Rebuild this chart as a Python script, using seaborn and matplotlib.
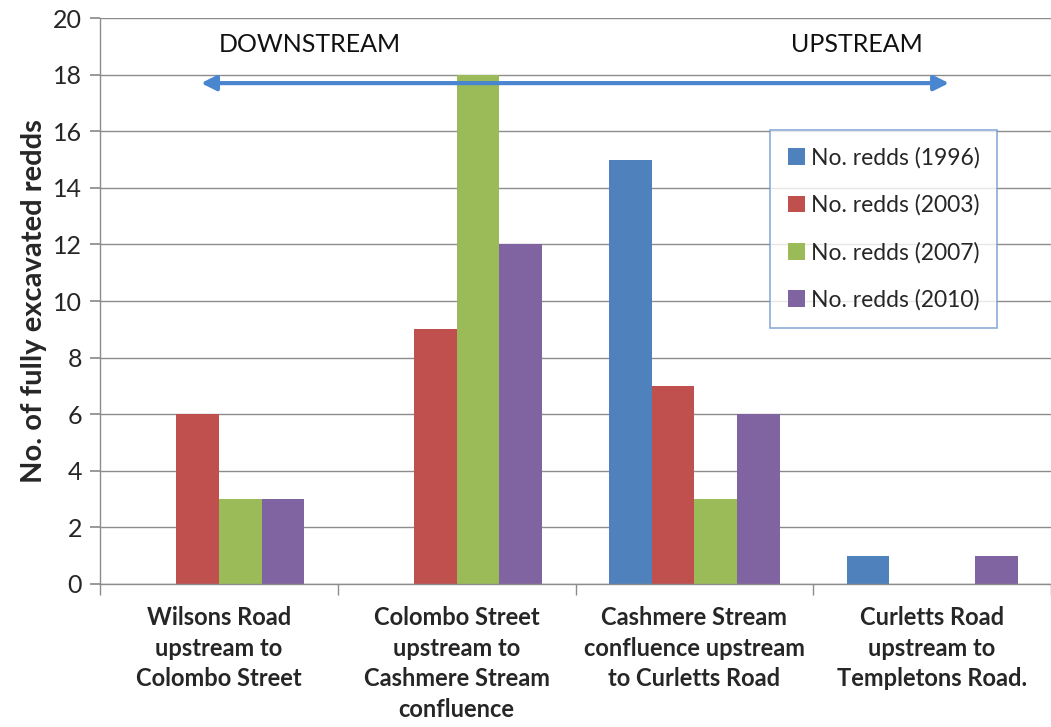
import matplotlib
matplotlib.use("Agg")
import matplotlib.pyplot as plt
import seaborn as sns
import pandas as pd

categories = ["Wilsons Road\nupstream to\nColombo Street",
              "Colombo Street\nupstream to\nCashmere Stream\nconfluence",
              "Cashmere Stream\nconfluence upstream\nto Curletts Road",
              "Curletts Road\nupstream to\nTempletons Road."]
series = ["No. redds (1996)", "No. redds (2003)", "No. redds (2007)", "No. redds (2010)"]
v1996 = [0, 0, 15, 1]
v2003 = [6, 9, 7, 0]
v2007 = [3, 18, 3, 0]
v2010 = [3, 12, 6, 1]
colors = ["#4F81BD", "#C0504D", "#9BBB59", "#8064A2"]
yticks = [0, 2, 4, 6, 8, 10, 12, 14, 16, 18, 20]

rows = []
for s, vals in zip(series, [v1996, v2003, v2007, v2010]):
    for c, v in zip(categories, vals):
        rows.append({"cat": c, "series": s, "value": v})
df = pd.DataFrame(rows)

sns.set_theme(style="white")
plt.rcParams["font.family"] = ["Lato", "DejaVu Sans"]

fig = plt.figure(figsize=(10.51, 7.27), dpi=100)
ax = fig.add_axes([100 / 1051, 0.1967, 951 / 1051, 0.7785])

sns.barplot(data=df, x="cat", y="value", hue="series", palette=colors,
            width=0.72, saturation=1, ax=ax, legend=True)
for p in ax.patches:
    p.set_edgecolor("none")

ax.set_xlim(-0.5, -0.5 + 951 / 239)
ax.set_ylim(0, 20)
ax.set_yticks(yticks)
ax.set_yticklabels([str(t) for t in yticks], fontsize=18)
ax.yaxis.grid(True, color="#8C8C8C", linewidth=1.0)
ax.set_axisbelow(True)

ax.set_xticks(range(len(categories)))
ax.set_xticklabels(categories, fontsize=17, fontweight="bold", linespacing=1.4)
ax.set_xticks([i - 0.5 for i in range(len(categories) + 1)], minor=True)
ax.tick_params(axis="x", which="major", length=0, pad=16)
ax.tick_params(axis="x", which="minor", length=8, color="#8C8C8C", direction="out", bottom=True)
ax.tick_params(axis="y", length=7, color="#8C8C8C", direction="out", left=True, pad=6)

for side in ["top", "right"]:
    ax.spines[side].set_visible(False)
for side in ["left", "bottom"]:
    ax.spines[side].set_color("#8C8C8C")
    ax.spines[side].set_linewidth(1.0)

ax.set_xlabel("")
ax.set_ylabel("No. of fully excavated redds", fontsize=21, fontweight="bold", labelpad=4)

leg = ax.legend(loc="upper left", bbox_to_anchor=(0.705, 0.802), borderaxespad=0,
                fontsize=16.5, frameon=True, fancybox=False, labelspacing=1.12,
                handlelength=0.75, handleheight=0.75, handletextpad=0.25,
                borderpad=0.75)
leg.get_frame().set_edgecolor("#6E9AD0")
leg.get_frame().set_linewidth(1.2)

ax.annotate("", xy=(-0.075, 17.7), xytext=(3.071, 17.7),
            arrowprops=dict(arrowstyle="<|-|>", color="#4A86D0", lw=3,
                            mutation_scale=22, shrinkA=0, shrinkB=0))
ax.text(0.383, 19.05, "DOWNSTREAM", ha="center", va="center", fontsize=18, color="#111111")
ax.text(2.683, 19.05, "UPSTREAM", ha="center", va="center", fontsize=18, color="#111111")

fig.savefig("out.png", dpi=100)
